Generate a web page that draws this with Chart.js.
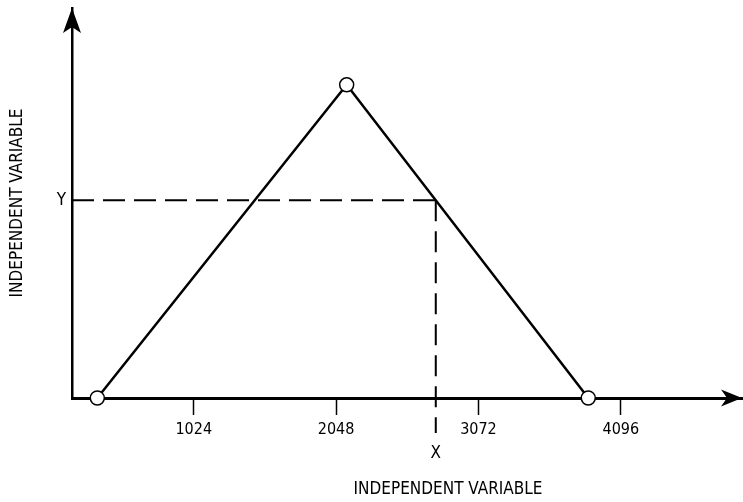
<!DOCTYPE html>
<html>
<head>
<meta charset="utf-8">
<script src="https://cdn.jsdelivr.net/npm/chart.js@4"></script>
<style>
  html, body { margin: 0; padding: 0; background: #fff; }
  #wrap { width: 743px; height: 502px; }
</style>
</head>
<body>
<div id="wrap"><canvas id="myChart" width="743" height="502"></canvas></div>
<script>
// axis ranges and tick positions
const xAxisRange = [148, 4968];
const yAxisRange = [0, 100];
const xTicks = [1024, 2048, 3072, 4096];

// triangular membership curve
const curveX = [330, 2124, 3862];
const curveY = [0, 80.3, 0];

// the sample point (X, Y) picked off the falling edge
const xValue = 2765;
const yValue = 50.7;
const dashBottom = -9;

const axisTitle = "INDEPENDENT VARIABLE";
const fontFamily = "'DejaVu Sans Condensed', 'Liberation Sans Narrow', sans-serif";
const ink = "#000";

const chart = document.getElementById("myChart");

// arrow heads on both axes, plus the X marker and bottom caption
const extras = {
  id: "extras",
  afterDraw(c) {
    const ctx = c.ctx;
    const a = c.chartArea;
    const xs = c.scales.x;
    ctx.save();
    ctx.fillStyle = ink;
    // x arrow
    ctx.beginPath();
    ctx.moveTo(a.right, a.bottom);
    ctx.lineTo(a.right - 21, a.bottom - 8.5);
    ctx.lineTo(a.right - 15, a.bottom);
    ctx.lineTo(a.right - 21, a.bottom + 8.5);
    ctx.closePath();
    ctx.fill();
    // y arrow
    ctx.beginPath();
    ctx.moveTo(a.left, a.top);
    ctx.lineTo(a.left - 9, a.top + 25);
    ctx.lineTo(a.left, a.top + 19);
    ctx.lineTo(a.left + 9, a.top + 25);
    ctx.closePath();
    ctx.fill();
    // X label under the dashed drop line
    ctx.font = "17px " + fontFamily;
    ctx.textAlign = "center";
    ctx.textBaseline = "middle";
    ctx.fillText("X", xs.getPixelForValue(xValue), a.bottom + 56);
    ctx.fillText(axisTitle, 448, a.bottom + 92);
    ctx.restore();
  }
};

new Chart(chart, {
  type: "line",
  data: {
    datasets: [
      {
        label: "curve",
        data: curveX.map((x, i) => ({ x: x, y: curveY[i] })),
        borderColor: ink,
        borderWidth: 2.5,
        pointRadius: 7,
        pointBackgroundColor: "#fff",
        pointBorderColor: ink,
        pointBorderWidth: 1.5,
        clip: false,
        order: 0
      },
      {
        label: "y level",
        data: [{ x: xAxisRange[0], y: yValue }, { x: xValue, y: yValue }],
        borderColor: ink,
        borderWidth: 2,
        borderDash: [22, 9],
        pointRadius: 0,
        clip: false,
        order: 1
      },
      {
        label: "x drop",
        data: [{ x: xValue, y: yValue }, { x: xValue, y: dashBottom }],
        borderColor: ink,
        borderWidth: 2,
        borderDash: [21, 10],
        pointRadius: 0,
        clip: false,
        order: 1
      }
    ]
  },
  options: {
    responsive: false,
    animation: false,
    layout: { autoPadding: false, padding: { top: 8, right: 1, left: 0, bottom: 0 } },
    plugins: {
      legend: { display: false },
      tooltip: { enabled: false }
    },
    scales: {
      x: {
        type: "linear",
        min: xAxisRange[0],
        max: xAxisRange[1],
        afterBuildTicks: (s) => { s.ticks = xTicks.map((v) => ({ value: v })); },
        afterFit: (s) => {
          s.height = 104;
          s.paddingLeft = 0;
          s.paddingRight = 0;
        },
        border: { display: true, color: ink, width: 3 },
        grid: {
          drawOnChartArea: false,
          drawTicks: true,
          tickLength: 17,
          tickColor: ink,
          tickWidth: 1.5
        },
        ticks: {
          autoSkip: false,
          maxRotation: 0,
          padding: 5,
          color: ink,
          font: { family: fontFamily, size: 16 },
          callback: (v) => String(v)
        }
      },
      y: {
        type: "linear",
        min: yAxisRange[0],
        max: yAxisRange[1],
        afterBuildTicks: (s) => { s.ticks = [{ value: yValue }]; },
        afterFit: (s) => {
          s.width = 72;
          s.paddingTop = 0;
          s.paddingBottom = 0;
        },
        border: { display: true, color: ink, width: 2.5 },
        grid: { drawOnChartArea: false, drawTicks: false },
        ticks: {
          padding: 6,
          color: ink,
          font: { family: fontFamily, size: 17 },
          callback: () => "Y"
        },
        title: {
          display: true,
          text: axisTitle,
          color: ink,
          padding: { top: 7, bottom: 0 },
          font: { family: fontFamily, size: 17 }
        }
      }
    }
  },
  plugins: [extras]
});
</script>
</body>
</html>
